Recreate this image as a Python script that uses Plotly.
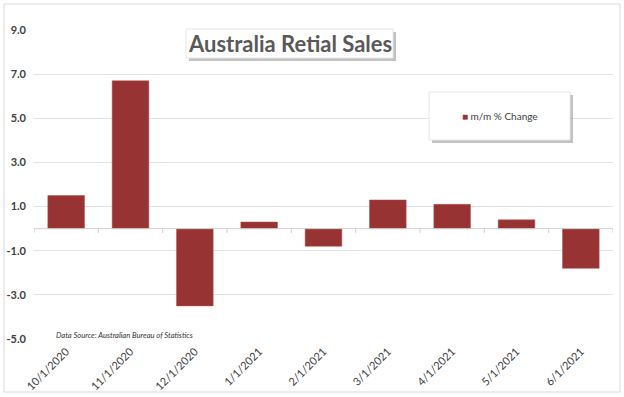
import plotly.graph_objects as go

categories = ["10/1/2020", "11/1/2020", "12/1/2020", "1/1/2021", "2/1/2021",
              "3/1/2021", "4/1/2021", "5/1/2021", "6/1/2021"]
mm_change = [1.5, 6.7, -3.5, 0.3, -0.8, 1.3, 1.1, 0.4, -1.8]
y_ticks = [-5.0, -3.0, -1.0, 1.0, 3.0, 5.0, 7.0, 9.0]
y_tick_labels = ["-5.0", "-3.0", "-1.0", "1.0", "3.0", "5.0", "7.0", "9.0"]
series_name = "m/m % Change"
title_text = "Australia Retial Sales"
source_text = "Data Source: Australian Bureau of Statistics"
bar_color = "#973433"

W, H = 624, 397
L, R, T, B = 34, 11, 30, 58
pw, ph = W - L - R, H - T - B

def px(x):
    return (x - L) / pw

def py(y):
    return (H - B - y) / ph

fig = go.Figure()
fig.add_trace(go.Bar(
    x=list(range(len(categories))), y=mm_change, name=series_name,
    marker=dict(color=bar_color, line=dict(color="#b5504c", width=0.5)),
    width=0.57, showlegend=False, hoverinfo="skip",
))

shapes = []
shapes.append(dict(type="rect", xref="paper", yref="paper",
                   x0=px(4), x1=px(620), y0=py(392), y1=py(4),
                   line=dict(color="#d9d9d9", width=1), fillcolor="rgba(0,0,0,0)", layer="below"))
shapes.append(dict(type="line", xref="paper", yref="y", x0=0, x1=1, y0=0, y1=0,
                   line=dict(color="#d0d0d0", width=1)))
for i in range(len(categories) + 1):
    shapes.append(dict(type="line", xref="x", yref="y", x0=i - 0.5, x1=i - 0.5,
                       y0=0, y1=-0.2, line=dict(color="#d0d0d0", width=1)))
# title box shadow + box
shapes.append(dict(type="rect", xref="paper", yref="paper",
                   x0=px(189), x1=px(396), y0=py(61), y1=py(32),
                   line=dict(width=0), fillcolor="rgba(120,120,120,0.45)"))
shapes.append(dict(type="rect", xref="paper", yref="paper",
                   x0=px(186), x1=px(393), y0=py(58), y1=py(29),
                   line=dict(color="#e6e6e6", width=1), fillcolor="white"))
# legend box shadow + box
shapes.append(dict(type="rect", xref="paper", yref="paper",
                   x0=px(432), x1=px(573), y0=py(143), y1=py(95),
                   line=dict(width=0), fillcolor="rgba(120,120,120,0.45)"))
shapes.append(dict(type="rect", xref="paper", yref="paper",
                   x0=px(429), x1=px(570), y0=py(140), y1=py(92),
                   line=dict(color="#e6e6e6", width=1), fillcolor="white"))

fig.update_layout(
    width=W, height=H,
    margin=dict(l=L, r=R, t=T, b=B, autoexpand=False),
    paper_bgcolor="white", plot_bgcolor="white",
    showlegend=False,
    hovermode=False,
    shapes=shapes,
    xaxis=dict(tickmode="array", tickvals=list(range(len(categories))),
               ticktext=categories, tickangle=-45, range=[-0.5, len(categories) - 0.5],
               showgrid=False, zeroline=False, showline=False, ticks="",
               automargin=False, ticklabelstandoff=3,
               tickfont=dict(family="Lato", size=11, color="#404040")),
    yaxis=dict(range=[-5, 9], tickmode="array", tickvals=y_ticks, ticktext=y_tick_labels,
               showgrid=True, gridcolor="#e3e3e3", gridwidth=1, zeroline=False,
               showline=False, ticks="", automargin=False, ticklabelstandoff=7,
               tickfont=dict(family="Lato", size=11, color="#404040", weight="bold")),
    annotations=[
        dict(text=title_text, xref="paper", yref="paper", x=px(289.5), y=py(43),
             xanchor="center", yanchor="middle", showarrow=False,
             font=dict(family="Lato", size=22, color="#595959", weight="bold")),
        dict(text="<i>" + source_text + "</i>", xref="paper", yref="paper",
             x=px(54), y=py(335), xanchor="left", yanchor="middle", showarrow=False,
             font=dict(family="Lato", size=7.6, color="#333333")),
        dict(text='<span style="color:' + bar_color + '">■</span> ' + series_name,
             xref="paper", yref="paper", x=px(500), y=py(116),
             xanchor="center", yanchor="middle", showarrow=False,
             font=dict(family="Lato", size=10, color="#404040")),
    ],
    bargap=0.43,
)

fig.write_html("out.html", config={"displayModeBar": False},
               post_script="document.body.style.margin='0px';")
